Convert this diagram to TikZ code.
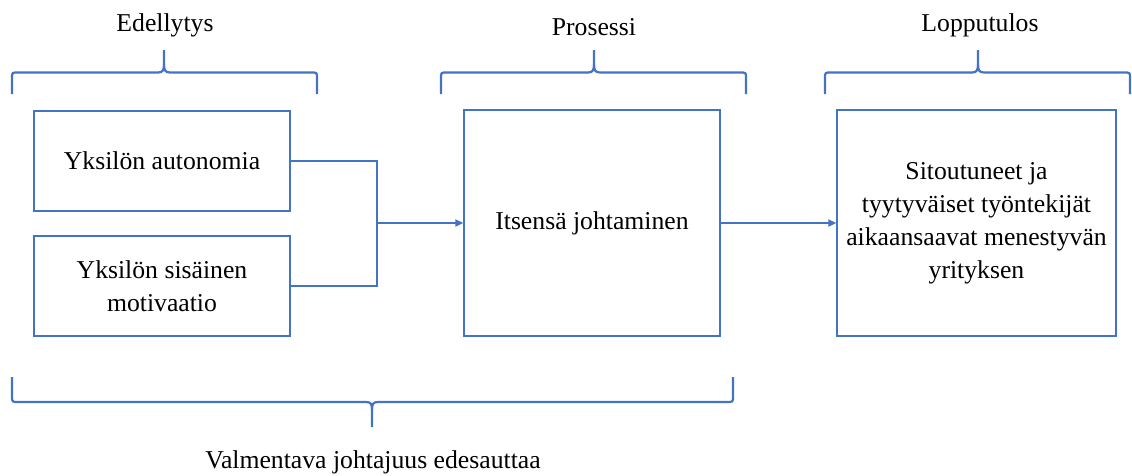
\documentclass[tikz,border=0pt]{standalone}
\usepackage{fontspec}
\setmainfont{Liberation Serif}
\usetikzlibrary{arrows.meta}
\definecolor{accent}{HTML}{4472C4}
\tikzset{
  box/.style={draw=accent, line width=1.4pt, rectangle, minimum width=256pt, minimum height=100pt, inner sep=0pt, align=center, font=\fontsize{25.7}{33}\selectfont},
  conn/.style={draw=accent, line width=2pt},
  brc/.style={draw=accent, line width=2.2pt, line cap=butt},
  lbl/.style={inner sep=0pt, font=\fontsize{25.7}{33}\selectfont}
}
\begin{document}
\begin{tikzpicture}[x=1pt,y=-1pt]
\useasboundingbox (0,0) rectangle (1132,475);
% boxes
\node[box] (A) at (162,161) {Yksilön autonomia};
\node[box] (B) at (162,286) {Yksilön sisäinen\\motivaatio};
\node[box, minimum height=226pt] (C) at (592,223) {Itsensä johtaminen};
\node[box, minimum width=279pt, minimum height=226pt] (D) at (976.5,223) {Sitoutuneet ja\\tyytyväiset työntekijät\\aikaansaavat menestyvän\\yrityksen};
% connectors
\coordinate (J) at (377,223);
\draw[conn] (A.east) -| (J);
\draw[conn] (B.east) -| (J);
\draw[conn, -{Triangle[length=8pt,width=7pt]}] (J) -- (C.west);
\draw[conn, -{Triangle[length=8pt,width=7pt]}] (C.east) -- (D.west);
% top braces
\foreach \xa/\xm/\xb in {12/164/317, 441/594/746, 825/978/1130}{
  \draw[brc] (\xa,94) -- (\xa,78) .. controls (\xa,72.5) .. (\xa+6,72.5)
    -- (\xm-6,72.5) .. controls (\xm-1,72.5) and (\xm,70) .. (\xm,64) -- (\xm,50);
  \draw[brc] (\xm,64) .. controls (\xm,70) and (\xm+1,72.5) .. (\xm+6,72.5)
    -- (\xb-6,72.5) .. controls (\xb,72.5) .. (\xb,78) -- (\xb,94);
}
% bottom brace
\draw[brc] (12,377) -- (12,396) .. controls (12,402) .. (18,402)
  -- (366,402) .. controls (371,402) and (372,404) .. (372,410) -- (372,427);
\draw[brc] (372,410) .. controls (372,404) and (373,402) .. (378,402)
  -- (727,402) .. controls (733,402) .. (733,396) -- (733,377);
% labels
\node[lbl] (l1) at (165,25) {Edellytys};
\node[lbl] (l2) at (594,27) {Prosessi};
\node[lbl] (l3) at (980,25) {Lopputulos};
\node[lbl] (l4) at (373,462) {Valmentava johtajuus edesauttaa};
\end{tikzpicture}
\end{document}
